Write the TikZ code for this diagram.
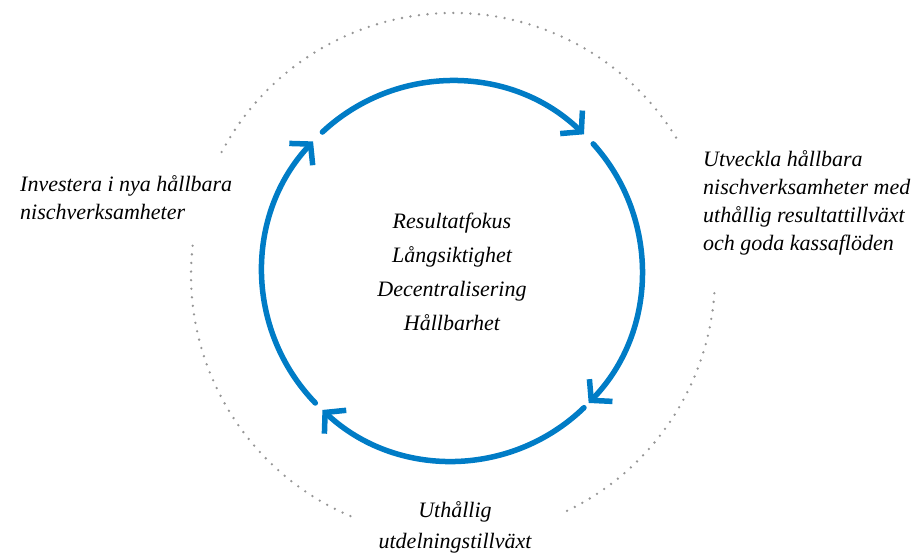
\documentclass[tikz,border=0pt]{standalone}
\usepackage{fontspec}
\setmainfont{Liberation Serif}
\usetikzlibrary{arrows.meta,calc}
\definecolor{cycblue}{RGB}{0,124,198}
\definecolor{dotgray}{RGB}{150,150,150}
\tikzset{
  cyc/.style={draw=cycblue, line width=5.5pt, line cap=round,
    -{Straight Barb[length=14pt,width=32pt,line width=5.5pt]}},
  dotarc/.style={draw=dotgray, line width=2.6pt, line cap=round, dash pattern=on 0pt off 8.6pt},
  lbl/.style={font=\fontsize{22}{28}\selectfont\itshape, inner sep=0pt},
}
\begin{document}
\begin{tikzpicture}[x=1pt,y=1pt]
\useasboundingbox (0,0) rectangle (924,552);
\coordinate (c) at (452,281);
\coordinate (d) at (453,277);
% cycle arcs
\coordinate (t1) at ($(c)+(133:190)$);
\coordinate (r1) at ($(c)+(42:190)$);
\coordinate (b1) at ($(c)+(-46:190)$);
\coordinate (l1) at ($(c)+(-136:190)$);
\draw[cyc] (t1) arc[start angle=133, end angle=46, radius=190];
\draw[cyc] (r1) arc[start angle=42, end angle=-44, radius=190];
\draw[cyc] (b1) arc[start angle=-46, end angle=-133, radius=190];
\draw[cyc] (l1) arc[start angle=-136, end angle=-223, radius=190];
% dotted outer arcs
\coordinate (u1) at ($(d)+(152:262)$);
\coordinate (v1) at ($(d)+(-4:262)$);
\coordinate (w1) at ($(d)+(173.6:262)$);
\draw[dotarc] (u1) arc[start angle=152, end angle=31, radius=262];
\draw[dotarc] (v1) arc[start angle=-4, end angle=-66, radius=262];
\draw[dotarc] (w1) arc[start angle=173.6, end angle=247.2, radius=262];
% texts (base anchor = baseline of last line)
\node[lbl, font=\fontsize{22}{33.7}\selectfont\itshape, align=center, anchor=base] (mid) at (452,221.9)
  {Resultatfokus\\Långsiktighet\\Decentralisering\\Hållbarhet};
\node[lbl, align=left, anchor=base west] (left) at (20,332)
  {Investera i nya hållbara\\nischverksamheter};
\node[lbl, font=\fontsize{22}{27.7}\selectfont\itshape, align=left, anchor=base west] (right) at (703,301.9)
  {Utveckla hållbara\\nischverksamheter med\\uthållig resultattillväxt\\och goda kassaflöden};
\node[lbl, font=\fontsize{22}{31}\selectfont\itshape, align=center, anchor=base] (bottom) at (455,4)
  {Uthållig\\utdelningstillväxt};
\end{tikzpicture}
\end{document}
